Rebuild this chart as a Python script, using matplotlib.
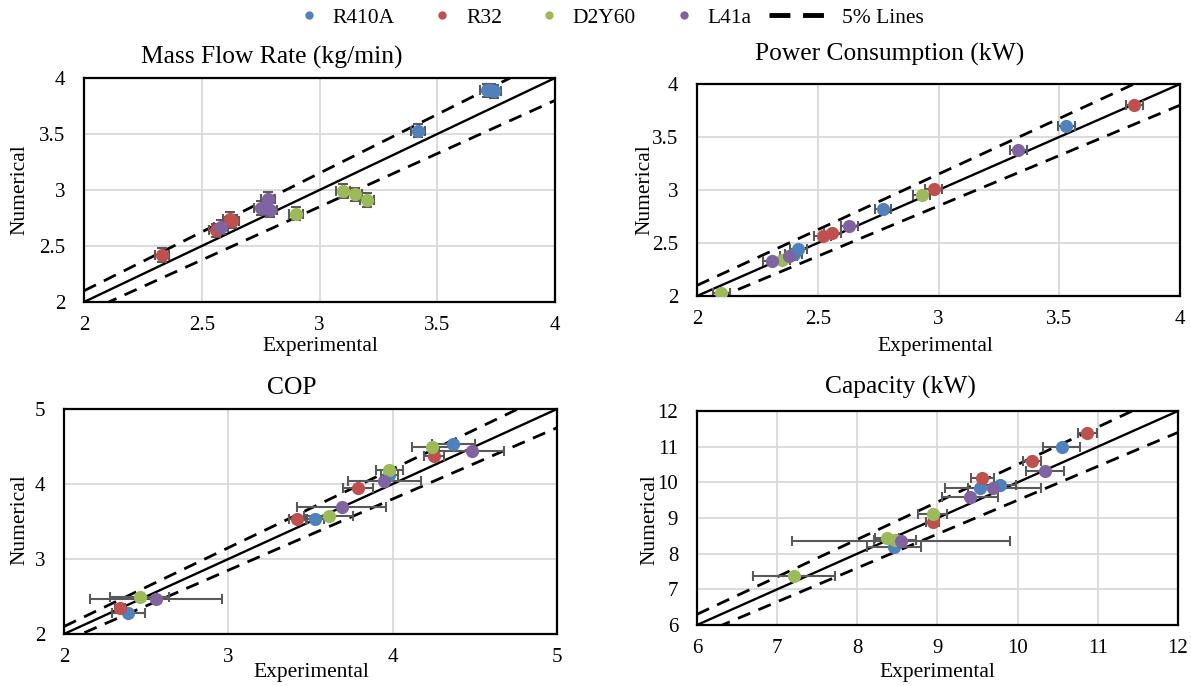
import matplotlib
matplotlib.use("Agg")
import matplotlib.pyplot as plt
from matplotlib.lines import Line2D
import numpy as np

plt.rcParams['font.family'] = ['Liberation Serif', 'DejaVu Serif']

W, H = 1191, 686

SERIES = ['R410A', 'R32', 'D2Y60', 'L41a']
COLORS = ['#4F81BD', '#C0504D', '#9BBB59', '#8064A2']
BAR_COLOR = '#595959'
BAND_LABEL = '5% Lines'

# ---- Mass flow rate (kg/min) ----
mfr_ticks = [2, 2.5, 3, 3.5, 4]
mfr_ticklabels = ['2', '2.5', '3', '3.5', '4']
mfr_r410a_exp = [3.42, 3.71, 3.73, 3.74]
mfr_r410a_num = [3.53, 3.89, 3.89, 3.88]
mfr_r32_exp = [2.33, 2.56, 2.62, 2.63]
mfr_r32_num = [2.42, 2.64, 2.74, 2.72]
mfr_d2y60_exp = [2.90, 3.10, 3.15, 3.20]
mfr_d2y60_num = [2.79, 2.99, 2.96, 2.91]
mfr_l41a_exp = [2.58, 2.75, 2.78, 2.79]
mfr_l41a_num = [2.67, 2.84, 2.92, 2.82]
mfr_xerr = 0.03
mfr_yerr = 0.06

# ---- Power consumption (kW) ----
pow_ticks = [2, 2.5, 3, 3.5, 4]
pow_ticklabels = ['2', '2.5', '3', '3.5', '4']
pow_r410a_exp = [2.40, 2.42, 2.77, 3.53]
pow_r410a_num = [2.40, 2.44, 2.82, 3.60]
pow_r32_exp = [2.52, 2.56, 2.98, 3.81]
pow_r32_num = [2.57, 2.59, 3.01, 3.80]
pow_d2y60_exp = [2.10, 2.35, 2.93]
pow_d2y60_num = [2.03, 2.34, 2.95]
pow_l41a_exp = [2.31, 2.38, 2.63, 3.33]
pow_l41a_num = [2.33, 2.38, 2.66, 3.38]
pow_xerr = 0.035

# ---- COP ----
cop_ticks = [2, 3, 4, 5]
cop_ticklabels = ['2', '3', '4', '5']
cop_r410a_exp = [2.39, 3.53, 3.98, 4.37]
cop_r410a_num = [2.28, 3.53, 4.12, 4.53]
cop_r410a_xerr = [0.10, 0.05, 0.05, 0.13]
cop_r32_exp = [2.34, 3.42, 3.79, 4.25]
cop_r32_num = [2.35, 3.53, 3.95, 4.38]
cop_r32_xerr = [0.03, 0.05, 0.09, 0.06]
cop_d2y60_exp = [2.46, 3.61, 3.98, 4.24]
cop_d2y60_num = [2.50, 3.58, 4.19, 4.50]
cop_d2y60_xerr = [0.18, 0.15, 0.08, 0.12]
cop_l41a_exp = [2.56, 3.69, 3.95, 4.48]
cop_l41a_num = [2.47, 3.70, 4.04, 4.44]
cop_l41a_xerr = [0.40, 0.27, 0.22, 0.20]

# ---- Capacity (kW) ----
cap_ticks = [6, 7, 8, 9, 10, 11, 12]
cap_ticklabels = ['6', '7', '8', '9', '10', '11', '12']
cap_r410a_exp = [8.46, 9.53, 9.78, 10.55]
cap_r410a_num = [8.20, 9.84, 9.93, 11.00]
cap_r410a_xerr = [0.34, 0.15, 0.20, 0.23]
cap_r32_exp = [8.94, 9.56, 10.18, 10.87]
cap_r32_num = [8.90, 10.13, 10.60, 11.37]
cap_r32_xerr = [0.08, 0.14, 0.11, 0.12]
cap_d2y60_exp = [7.21, 8.37, 8.47, 8.94]
cap_d2y60_num = [7.37, 8.44, 8.38, 9.12]
cap_d2y60_xerr = [0.51, 0.15, 0.26, 0.18]
cap_l41a_exp = [8.54, 9.41, 9.69, 10.34]
cap_l41a_num = [8.36, 9.58, 9.84, 10.33]
cap_l41a_xerr = [1.36, 0.35, 0.60, 0.24]

BAND = 0.05  # +/- 5 % deviation lines


def px_rect(left, right, top, bottom):
    return [left / W, 1 - bottom / H, (right - left) / W, (bottom - top) / H]


def fx(x):
    return x / W


def fy(y):
    return 1 - y / H


panels = [
    dict(title='Mass Flow Rate (kg/min)', rect=px_rect(84, 555, 78, 302),
         ticks=mfr_ticks, labels=mfr_ticklabels,
         series=[(mfr_r410a_exp, mfr_r410a_num, mfr_xerr, mfr_yerr),
                 (mfr_r32_exp, mfr_r32_num, mfr_xerr, mfr_yerr),
                 (mfr_d2y60_exp, mfr_d2y60_num, mfr_xerr, mfr_yerr),
                 (mfr_l41a_exp, mfr_l41a_num, mfr_xerr, mfr_yerr)],
         title_xy=(272, 64), xlabel_xy=(320, 347), ylabel_xy=(20, 190)),
    dict(title='Power Consumption (kW)', rect=px_rect(697, 1180, 84, 296),
         ticks=pow_ticks, labels=pow_ticklabels,
         series=[(pow_r410a_exp, pow_r410a_num, pow_xerr, None),
                 (pow_r32_exp, pow_r32_num, pow_xerr, None),
                 (pow_d2y60_exp, pow_d2y60_num, pow_xerr, None),
                 (pow_l41a_exp, pow_l41a_num, pow_xerr, None)],
         title_xy=(890, 61), xlabel_xy=(935, 347), ylabel_xy=(645, 190)),
    dict(title='COP', rect=px_rect(64, 557, 409, 634),
         ticks=cop_ticks, labels=cop_ticklabels,
         series=[(cop_r410a_exp, cop_r410a_num, cop_r410a_xerr, None),
                 (cop_r32_exp, cop_r32_num, cop_r32_xerr, None),
                 (cop_d2y60_exp, cop_d2y60_num, cop_d2y60_xerr, None),
                 (cop_l41a_exp, cop_l41a_num, cop_l41a_xerr, None)],
         title_xy=(292, 394), xlabel_xy=(311, 672), ylabel_xy=(20, 520)),
    dict(title='Capacity (kW)', rect=px_rect(697, 1178, 411, 625),
         ticks=cap_ticks, labels=cap_ticklabels,
         series=[(cap_r410a_exp, cap_r410a_num, cap_r410a_xerr, None),
                 (cap_r32_exp, cap_r32_num, cap_r32_xerr, None),
                 (cap_d2y60_exp, cap_d2y60_num, cap_d2y60_xerr, None),
                 (cap_l41a_exp, cap_l41a_num, cap_l41a_xerr, None)],
         title_xy=(900, 394), xlabel_xy=(937, 672), ylabel_xy=(650, 520)),
]

fig = plt.figure(figsize=(W / 100, H / 100), dpi=100)

for p in panels:
    ax = fig.add_axes(p['rect'])
    lo, hi = p['ticks'][0], p['ticks'][-1]
    ax.set_xlim(lo, hi)
    ax.set_ylim(lo, hi)
    ax.set_xticks(p['ticks'], p['labels'])
    ax.set_yticks(p['ticks'], p['labels'])
    ax.tick_params(axis='both', length=0, labelsize=15)
    ax.tick_params(axis='x', pad=10)
    ax.tick_params(axis='y', pad=13.5)
    ax.grid(True, color='#D9D9D9', linewidth=1.3)
    ax.set_axisbelow(True)
    for s in ax.spines.values():
        s.set_linewidth(1.6)
        s.set_color('black')

    xs = np.array([lo, hi], dtype=float)
    ax.plot(xs, xs, color='black', linewidth=1.7, zorder=2)
    ax.plot(xs, (1 + BAND) * xs, color='black', linewidth=2.0,
            linestyle=(0, (4.8, 3.2)), zorder=2)
    ax.plot(xs, (1 - BAND) * xs, color='black', linewidth=2.0,
            linestyle=(0, (4.8, 3.2)), zorder=2)

    for (ex, nu, xe, ye), color in zip(p['series'], COLORS):
        ax.errorbar(ex, nu, xerr=xe, yerr=ye, fmt='none', ecolor=BAR_COLOR,
                    elinewidth=1.5, capsize=3.6, capthick=1.5, zorder=2.5)
        ax.plot(ex, nu, linestyle='none', marker='o', markersize=9.5,
                color=color, markeredgewidth=0, zorder=3)

    fig.text(fx(p['title_xy'][0]), fy(p['title_xy'][1]), p['title'],
             ha='center', va='baseline', fontsize=18.4)
    fig.text(fx(p['xlabel_xy'][0]), fy(p['xlabel_xy'][1]), 'Experimental',
             ha='center', va='center', fontsize=15.5)
    fig.text(fx(p['ylabel_xy'][0]), fy(p['ylabel_xy'][1]), 'Numerical',
             ha='center', va='center', rotation=90, fontsize=15.5)

# Legend: refrigerant markers, then the deviation-band line entry
marker_handles = [Line2D([], [], linestyle='none', marker='o', markersize=6,
                         color=c, markeredgewidth=0) for c in COLORS]
leg_markers = fig.legend(marker_handles, SERIES, loc='center left',
                         bbox_to_anchor=(fx(293), fy(18)), ncol=4,
                         frameon=False, fontsize=15.5, handlelength=1.5,
                         handletextpad=0.35, columnspacing=1.45,
                         borderpad=0, borderaxespad=0)
band_handle = Line2D([], [], color='black', linewidth=3.5,
                     linestyle=(0, (4.3, 2.6)))
fig.legend([band_handle], [BAND_LABEL], loc='center left',
           bbox_to_anchor=(fx(769), fy(18)), frameon=False, fontsize=15.5,
           handlelength=2.9, handletextpad=0.5, borderpad=0,
           borderaxespad=0)

fig.savefig('out.png', dpi=100)
